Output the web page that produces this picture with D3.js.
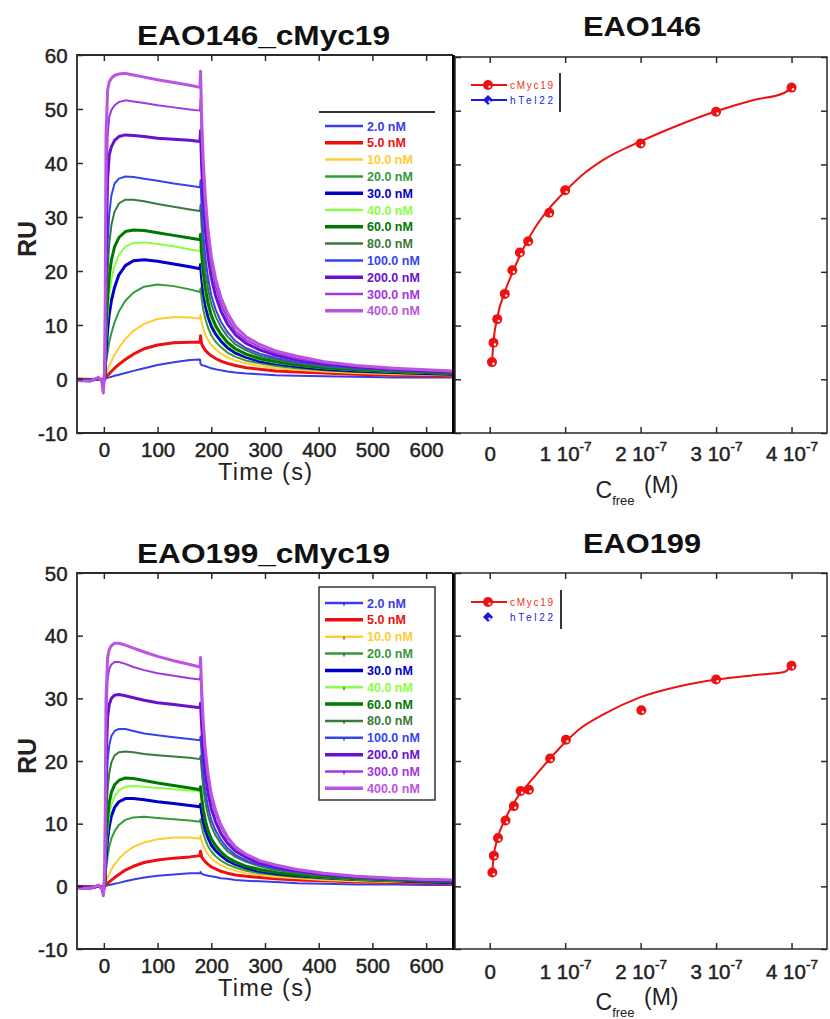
<!DOCTYPE html>
<html>
<head>
<meta charset="utf-8">
<script src="https://cdn.jsdelivr.net/npm/d3@7"></script>
<style>
  body { margin: 0; background: #fff; }
  svg { display: block; font-family: "Liberation Sans", Arial, sans-serif; }
</style>
</head>
<body>
<svg id="chart" width="830" height="1019"></svg>
<script>
// ---- Sensorgram data (RU vs time, one row per injected concentration) ----
const concLabels = ["2.0 nM", "5.0 nM", "10.0 nM", "20.0 nM", "30.0 nM", "40.0 nM",
                    "60.0 nM", "80.0 nM", "100.0 nM", "200.0 nM", "300.0 nM", "400.0 nM"];

const sensorTimes = [-50, -25, -10, -4, -1, 0,
  2, 4, 7, 10, 14, 20, 28, 40, 55, 75, 100, 130, 160, 179,
  180,
  182, 185, 189, 194, 200, 208, 218, 230, 245, 265, 290, 320, 360, 410, 470, 540, 600, 650];

const eao146Sensorgram = [
  [0, 0, 0, 0, -0.2, 0, 0.05, 0.1, 0.2, 0.3, 0.4, 0.6, 0.8, 1.1, 1.5, 2.0, 2.6, 3.1, 3.5, 3.6, 2.8,
   2.6, 2.5, 2.4, 2.2, 2.0, 1.8, 1.6, 1.4, 1.2, 1.0, 0.9, 0.7, 0.6, 0.5, 0.4, 0.3, 0.3, 0.3],
  [0, -0.1, 0, -0.1, -0.3, 0, 0.1, 0.4, 0.7, 1.0, 1.4, 2.0, 2.7, 3.6, 4.6, 5.6, 6.3, 6.7, 6.8, 6.8, 8.0,
   6.5, 5.9, 5.3, 4.8, 4.3, 3.8, 3.3, 2.9, 2.5, 2.1, 1.8, 1.5, 1.3, 1.1, 0.9, 0.7, 0.6, 0.5],
  [-0.1, -0.1, 0, -0.1, -0.4, -0.1, 0.2, 1, 1.8, 2.5, 3.3, 4.5, 5.8, 7.4, 8.9, 10.2, 11.1, 11.5, 11.4, 11.2, 11.9,
   10.5, 9.3, 8.2, 7.2, 6.3, 5.5, 4.7, 4.0, 3.4, 2.9, 2.4, 2.0, 1.7, 1.4, 1.1, 0.9, 0.8, 0.7],
  [-0.1, -0.1, 0, -0.1, -0.5, -0.1, 0.3, 3, 5, 6.8, 8.5, 10.5, 12.5, 14.5, 16, 17.1, 17.5, 17.2, 16.6, 16.1, 16.8,
   14.9, 12.9, 11.1, 9.5, 8.1, 6.9, 5.9, 4.9, 4.1, 3.4, 2.9, 2.4, 2.0, 1.6, 1.3, 1.1, 0.9, 0.8],
  [-0.1, -0.2, 0, -0.2, -0.6, -0.2, 0.4, 5, 9, 12, 14.5, 17, 19.3, 21, 21.9, 22.1, 21.8, 21.3, 20.8, 20.4, 21.2,
   18.7, 16.0, 13.6, 11.5, 9.8, 8.3, 7.0, 5.8, 4.8, 4.0, 3.3, 2.8, 2.3, 1.8, 1.5, 1.2, 1.0, 0.9],
  [-0.1, -0.2, 0, -0.2, -0.7, -0.2, 0.5, 7, 12, 15.5, 18.5, 21, 23, 24.5, 25.2, 25.3, 25.0, 24.6, 24.0, 23.7, 24.5,
   21.6, 18.4, 15.5, 13.1, 11.0, 9.3, 7.8, 6.4, 5.3, 4.4, 3.6, 3.0, 2.5, 2.0, 1.6, 1.3, 1.1, 1.0],
  [-0.2, -0.2, 0, -0.2, -0.8, -0.2, 0.6, 9, 15, 19, 22, 24.5, 26.2, 27.3, 27.6, 27.5, 27.1, 26.6, 26.1, 25.8, 26.8,
   23.4, 19.9, 16.8, 14.1, 11.8, 9.9, 8.3, 6.8, 5.6, 4.6, 3.8, 3.2, 2.6, 2.1, 1.7, 1.4, 1.2, 1.0],
  [-0.2, -0.2, 0, -0.2, -0.9, -0.3, 0.8, 12, 20, 25, 28.5, 31, 32.5, 33.2, 33.2, 32.9, 32.4, 31.9, 31.4, 31.1, 32.2,
   28.1, 23.8, 19.9, 16.6, 13.9, 11.6, 9.6, 7.9, 6.4, 5.3, 4.3, 3.6, 2.9, 2.3, 1.9, 1.5, 1.3, 1.1],
  [-0.2, -0.2, 0.1, -0.2, -1.0, -0.3, 1, 16, 25, 30.5, 34, 36.2, 37.1, 37.5, 37.4, 37.1, 36.7, 36.2, 35.8, 35.5, 36.8,
   32.0, 27.0, 22.5, 18.7, 15.5, 12.9, 10.6, 8.7, 7.0, 5.7, 4.7, 3.9, 3.1, 2.5, 2.0, 1.6, 1.4, 1.2],
  [-0.2, -0.3, 0.1, -0.2, -1.4, -0.4, 1.5, 24, 37, 41.5, 43, 44.2, 44.9, 45.2, 45.1, 44.9, 44.6, 44.4, 44.2, 44.0, 46.0,
   39.6, 33.2, 27.5, 22.7, 18.8, 15.4, 12.6, 10.2, 8.2, 6.6, 5.4, 4.4, 3.5, 2.8, 2.2, 1.8, 1.5, 1.3],
  [-0.3, -0.3, 0.2, -0.3, -1.8, -0.5, 2, 30, 45, 48.5, 49.8, 50.7, 51.3, 51.6, 51.4, 51.1, 50.7, 50.3, 49.9, 49.7, 52.0,
   44.7, 37.3, 30.8, 25.3, 20.9, 17.1, 13.9, 11.2, 8.9, 7.2, 5.9, 4.8, 3.8, 3.0, 2.4, 1.9, 1.6, 1.4],
  [-0.3, -0.4, 0.3, -0.4, -2.6, -0.6, 3, 45, 53.5, 55, 55.7, 56.2, 56.5, 56.6, 56.3, 55.9, 55.4, 54.9, 54.4, 54.0, 57.0,
   48.6, 40.5, 33.5, 27.5, 22.7, 18.6, 15.1, 12.2, 9.7, 7.8, 6.4, 5.2, 4.2, 3.2, 2.5, 2.0, 1.7, 1.5]
];

const eao199Sensorgram = [
  [0, 0, 0, 0, -0.2, 0, 0.05, 0.1, 0.15, 0.2, 0.3, 0.4, 0.55, 0.8, 1.1, 1.4, 1.7, 1.9, 2.1, 2.1, 2.3,
   2.0, 1.9, 1.8, 1.7, 1.6, 1.5, 1.3, 1.2, 1.0, 0.9, 0.8, 0.7, 0.5, 0.4, 0.3, 0.3, 0.2, 0.2],
  [0, -0.1, 0, -0.1, -0.3, 0, 0.1, 0.3, 0.5, 0.7, 1.0, 1.4, 1.9, 2.6, 3.2, 3.8, 4.2, 4.5, 4.7, 4.9, 5.6,
   4.7, 4.3, 3.9, 3.5, 3.1, 2.8, 2.4, 2.1, 1.8, 1.6, 1.4, 1.2, 1.0, 0.9, 0.7, 0.6, 0.5, 0.5],
  [-0.1, -0.1, 0, -0.1, -0.4, -0.1, 0.2, 0.8, 1.4, 2.0, 2.7, 3.5, 4.4, 5.4, 6.3, 7.0, 7.5, 7.8, 7.8, 7.6, 8.1,
   7.2, 6.5, 5.8, 5.1, 4.5, 3.9, 3.4, 2.9, 2.5, 2.1, 1.8, 1.5, 1.3, 1.0, 0.8, 0.7, 0.6, 0.5],
  [-0.1, -0.1, 0, -0.1, -0.5, -0.1, 0.3, 2.8, 4.8, 6.3, 7.6, 8.8, 9.8, 10.6, 11.0, 11.1, 10.9, 10.7, 10.5, 10.3, 10.7,
   9.6, 8.5, 7.4, 6.4, 5.6, 4.8, 4.1, 3.5, 3.0, 2.5, 2.1, 1.8, 1.5, 1.2, 1.0, 0.8, 0.7, 0.6],
  [-0.1, -0.2, 0, -0.2, -0.6, -0.2, 0.4, 4.5, 7.5, 9.5, 11.2, 12.6, 13.5, 14.0, 14.0, 13.8, 13.5, 13.2, 12.9, 12.7, 13.1,
   11.8, 10.3, 8.9, 7.7, 6.6, 5.7, 4.9, 4.1, 3.5, 2.9, 2.4, 2.0, 1.7, 1.4, 1.1, 0.9, 0.7, 0.6],
  [-0.1, -0.2, 0, -0.2, -0.7, -0.2, 0.5, 5.5, 9, 11.2, 13, 14.4, 15.3, 15.9, 16.0, 15.9, 15.7, 15.5, 15.3, 15.2, 15.7,
   14.0, 12.1, 10.3, 8.8, 7.5, 6.4, 5.4, 4.5, 3.8, 3.2, 2.6, 2.2, 1.8, 1.4, 1.1, 0.9, 0.8, 0.7],
  [-0.2, -0.2, 0, -0.2, -0.8, -0.2, 0.6, 7, 11, 13.3, 15, 16.2, 16.9, 17.3, 17.2, 16.9, 16.5, 16.1, 15.7, 15.4, 15.9,
   14.2, 12.3, 10.5, 8.9, 7.6, 6.5, 5.5, 4.6, 3.9, 3.2, 2.7, 2.2, 1.8, 1.5, 1.2, 1.0, 0.8, 0.7],
  [-0.2, -0.2, 0, -0.2, -0.9, -0.3, 0.8, 10, 15.5, 18, 19.8, 20.9, 21.4, 21.5, 21.4, 21.1, 20.9, 20.7, 20.5, 20.3, 20.8,
   18.6, 15.9, 13.4, 11.3, 9.6, 8.1, 6.8, 5.6, 4.7, 3.9, 3.2, 2.6, 2.1, 1.7, 1.3, 1.1, 0.9, 0.8],
  [-0.2, -0.2, 0.1, -0.2, -0.9, -0.3, 1, 14, 20, 22.5, 24, 24.8, 25.1, 25.1, 24.8, 24.4, 24.1, 23.8, 23.5, 23.3, 23.9,
   21.2, 18.0, 15.1, 12.6, 10.6, 8.9, 7.4, 6.1, 5.0, 4.1, 3.4, 2.8, 2.3, 1.8, 1.4, 1.1, 0.9, 0.8],
  [-0.2, -0.3, 0.1, -0.2, -1.0, -0.3, 1.5, 20, 27, 29, 30, 30.5, 30.6, 30.4, 30.1, 29.7, 29.3, 29.0, 28.7, 28.5, 29.2,
   25.8, 21.7, 18.0, 14.9, 12.4, 10.3, 8.4, 6.9, 5.6, 4.6, 3.7, 3.1, 2.5, 1.9, 1.5, 1.2, 1.0, 0.9],
  [-0.3, -0.3, 0.1, -0.3, -1.2, -0.4, 2, 26, 33, 34.7, 35.4, 35.8, 35.8, 35.5, 35.0, 34.5, 34.0, 33.6, 33.2, 33.0, 33.8,
   29.8, 24.9, 20.6, 17.0, 14.0, 11.6, 9.4, 7.6, 6.1, 5.0, 4.0, 3.3, 2.6, 2.0, 1.6, 1.3, 1.1, 1.0],
  [-0.3, -0.3, 0.2, -0.3, -1.5, -0.5, 3, 30, 36.5, 37.8, 38.4, 38.8, 38.8, 38.5, 38.0, 37.4, 36.7, 36.0, 35.4, 35.0, 36.5,
   31.5, 26.3, 21.7, 17.9, 14.7, 12.1, 9.8, 7.9, 6.3, 5.1, 4.1, 3.4, 2.7, 2.1, 1.6, 1.3, 1.1, 1.0]
];

// ---- Binding isotherms (equilibrium RU vs free concentration, nM) ----
const cfree146 = [3, 5, 10, 20, 30, 40, 51, 79, 100, 200, 300, 400];
const req146   = [3.2, 6.8, 11.2, 15.9, 20.3, 23.6, 25.7, 31.0, 35.2, 43.9, 49.8, 54.3];
const fitConc146 = [3, 5, 10, 20, 30, 40, 50, 60, 80, 100, 125, 150, 200, 250, 300, 350, 390, 400];
const fitRU146   = [3.0, 7.0, 11.5, 16.3, 19.8, 23.0, 25.8, 28.2, 32.0, 35.0, 38.3, 40.8, 44.3, 47.3, 49.9, 52.0, 53.3, 54.3];

const cfree199 = [3.5, 5.5, 11, 21, 32, 41, 52, 80, 101, 201, 300, 400];
const req199   = [2.2, 4.9, 7.7, 10.5, 12.8, 15.2, 15.4, 20.4, 23.4, 28.1, 33.0, 35.2];
const fitConc199 = [3, 5, 10, 20, 30, 40, 50, 60, 80, 100, 120, 150, 200, 250, 300, 350, 390, 400];
const fitRU199   = [1.5, 4.5, 7.5, 10.6, 12.9, 14.8, 16.2, 17.6, 20.4, 23.0, 25.2, 27.4, 30.2, 31.9, 33.0, 33.7, 34.2, 35.2];

// ---- Axis ticks ----
const timeTicks = [0, 100, 200, 300, 400, 500, 600];
const ruTicks146 = [-10, 0, 10, 20, 30, 40, 50, 60];
const ruTicks199 = [-10, 0, 10, 20, 30, 40, 50];
const cfreeTicks = [0, 1e-7, 2e-7, 3e-7, 4e-7];
const seriesNames = ["cMyc19", "hTel22"];

// ---- Styles ----
const concColors = ["#3b3be8", "#ee1010", "#ffcc33", "#339a3a", "#0000c8", "#88ff44",
                    "#007800", "#3a7a3a", "#3246f0", "#6a10d0", "#a236e0", "#bb55e0"];
const concWidths = [2, 3, 2, 2, 3, 2, 3, 2, 2, 3, 2, 3];
const axisColor = "#2a2a2a";
const fitRed = "#ee1111";

const svg = d3.select("#chart");

function styleAxis(g) {
  g.selectAll(".domain").remove();
  g.selectAll(".tick line").attr("stroke", axisColor).attr("stroke-width", 1.5);
  g.selectAll(".tick text").attr("fill", "#222").attr("font-size", 19.5)
    .attr("stroke", "#222").attr("stroke-width", 0.45)
    .attr("font-family", "'Liberation Sans', Arial, sans-serif")
    .attr("transform", "scale(1.05,1)");
}

function sensorPanel(o) {
  const x = d3.scaleLinear().domain([-50, 650]).range([77, 453]);
  const y = d3.scaleLinear().domain([-10, o.yMax]).range([o.bottom, o.top]);
  const g = svg.append("g");

  const clipId = "clip" + o.id;
  svg.append("clipPath").attr("id", clipId).append("rect")
    .attr("x", 77).attr("y", o.top).attr("width", 376).attr("height", o.bottom - o.top);

  const line = d3.line().x((d, i) => x(sensorTimes[i])).y(d => y(d));
  const curves = g.append("g").attr("clip-path", `url(#${clipId})`);
  o.rows.forEach((row, i) => {
    curves.append("path").datum(row).attr("d", line)
      .attr("fill", "none").attr("stroke", concColors[i])
      .attr("stroke-width", concWidths[i]).attr("stroke-linejoin", "round");
  });

  // axes with inward ticks
  g.append("g").attr("transform", `translate(0,${o.bottom})`)
    .call(d3.axisBottom(x).tickValues(timeTicks).tickSize(-6).tickPadding(10)).call(styleAxis);
  g.append("g").attr("transform", `translate(0,${o.top})`)
    .call(d3.axisTop(x).tickValues(timeTicks).tickSize(-6).tickFormat("")).call(styleAxis);
  g.append("g").attr("transform", `translate(77,0)`)
    .call(d3.axisLeft(y).tickValues(o.yTicks).tickSize(-6).tickPadding(9).tickFormat(d => String(d)))
    .call(styleAxis)
    .selectAll(".tick text").attr("dy", "0.36em");

  // frame
  g.append("path").attr("d", `M453,${o.top}H77V${o.bottom}H453`)
    .attr("fill", "none").attr("stroke", axisColor).attr("stroke-width", 1.8);
  g.append("line").attr("x1", 453.5).attr("x2", 453.5).attr("y1", o.top).attr("y2", o.bottom + 1)
    .attr("stroke", "#000").attr("stroke-width", 3);

  // labels
  g.append("text").attr("x", 137).attr("y", o.titleY).attr("font-size", 27).attr("font-weight", "bold")
    .attr("textLength", 253).attr("lengthAdjust", "spacingAndGlyphs").attr("fill", "#111").text(o.title);
  g.append("text").attr("transform", `translate(36,${(o.top + o.bottom) / 2 - 5}) rotate(-90)`)
    .attr("text-anchor", "middle").attr("font-size", 25).attr("font-weight", "bold").attr("fill", "#222").text("RU");
  g.append("text").attr("x", 265).attr("y", o.bottom + 47).attr("text-anchor", "middle")
    .attr("font-size", 23.5).attr("fill", "#222").attr("textLength", 94).text("Time (s)");

  // legend
  const lg = g.append("g");
  if (o.boxed) {
    lg.append("rect").attr("x", 319).attr("y", o.legTop).attr("width", 116).attr("height", o.legBoxH)
      .attr("fill", "none").attr("stroke", "#333").attr("stroke-width", 1.5);
  } else {
    lg.append("line").attr("x1", 319).attr("x2", 435).attr("y1", o.legTop).attr("y2", o.legTop)
      .attr("stroke", "#333").attr("stroke-width", 2);
  }
  concLabels.forEach((lab, i) => {
    const yy = o.legFirst + i * o.legStep;
    lg.append("line").attr("x1", 325).attr("x2", 363).attr("y1", yy).attr("y2", yy)
      .attr("stroke", concColors[i]).attr("stroke-width", concWidths[i] + 0.5);
    if (o.boxed && concWidths[i] === 2) {
      lg.append("line").attr("x1", 344).attr("x2", 344).attr("y1", yy).attr("y2", yy + 3)
        .attr("stroke", "#222").attr("stroke-width", 1);
    }
    lg.append("text").attr("x", 367).attr("y", yy).attr("dy", "0.36em")
      .attr("font-size", 12.5).attr("font-weight", "bold").attr("fill", concColors[i]).text(lab);
  });
}

function marker(g, cx, cy, color, shape) {
  if (shape === "circle") {
    g.append("circle").attr("cx", cx).attr("cy", cy).attr("r", 5).attr("fill", color);
  } else {
    g.append("path").attr("d", d3.symbol(d3.symbolSquare, 52)()).attr("transform", `translate(${cx},${cy}) rotate(45)`)
      .attr("fill", color);
  }
  g.append("circle").attr("cx", cx + 1.5).attr("cy", cy + 1.7).attr("r", 1.2).attr("fill", "#fff");
}

function bindingPanel(o) {
  const x = d3.scaleLinear().domain([-0.46e-7, 4.47e-7]).range([455, 827]);
  const y = d3.scaleLinear().domain([-10, o.yMax]).range([o.bottom, o.top]);
  const g = svg.append("g");

  const fit = o.fitConc.map((c, i) => [c * 1e-9, o.fitRU[i]]);
  g.append("path").datum(fit)
    .attr("d", d3.line().curve(d3.curveMonotoneX).x(d => x(d[0])).y(d => y(d[1])))
    .attr("fill", "none").attr("stroke", fitRed).attr("stroke-width", 2);
  o.conc.forEach((c, i) => marker(g, x(c * 1e-9), y(o.ru[i]), fitRed, "circle"));

  const bx = g.append("g").attr("transform", `translate(0,${o.bottom})`)
    .call(d3.axisBottom(x).tickValues(cfreeTicks).tickSize(-6).tickPadding(o.labelPad)
      .tickFormat(d => d === 0 ? "0" : String(Math.round(d * 1e7))))
    .call(styleAxis);
  bx.selectAll(".tick text").each(function (d) {
    if (d === 0) return;
    const t = d3.select(this);
    const k = Math.round(d * 1e7);
    t.text(null);
    t.append("tspan").text(k + " 10");
    t.append("tspan").attr("font-size", 13).attr("dy", "-0.75em").text("-7");
  });
  g.append("g").attr("transform", `translate(0,${o.top})`)
    .call(d3.axisTop(x).tickValues(cfreeTicks).tickSize(-6).tickFormat("")).call(styleAxis);
  g.append("g").attr("transform", `translate(455,0)`)
    .call(d3.axisLeft(y).tickValues(o.yTicks).tickSize(-6).tickFormat("")).call(styleAxis);
  g.append("g").attr("transform", `translate(827,0)`)
    .call(d3.axisRight(y).tickValues(o.yTicks).tickSize(-6).tickFormat("")).call(styleAxis);
  g.append("rect").attr("x", 455).attr("y", o.top).attr("width", 372).attr("height", o.bottom - o.top)
    .attr("fill", "none").attr("stroke", axisColor).attr("stroke-width", 1.5);

  g.append("text").attr("x", 583).attr("y", o.titleY).attr("font-size", 27).attr("font-weight", "bold")
    .attr("textLength", 118).attr("lengthAdjust", "spacingAndGlyphs").attr("fill", "#111").text(o.title);

  const xl = g.append("text").attr("x", 637).attr("y", o.bottom + o.cLabelOff).attr("text-anchor", "middle")
    .attr("font-size", 23).attr("fill", "#222");
  xl.append("tspan").text("C");
  xl.append("tspan").attr("font-size", 13).attr("dy", "0.5em").text("free");
  xl.append("tspan").attr("dy", "-0.5em").attr("dx", 3).text(" (M)");

  // legend
  const ly = o.legY;
  g.append("line").attr("x1", 471).attr("x2", 507).attr("y1", ly).attr("y2", ly)
    .attr("stroke", fitRed).attr("stroke-width", 2);
  marker(g, 488, ly, fitRed, "circle");
  if (o.blueLine) {
    g.append("line").attr("x1", 471).attr("x2", 507).attr("y1", ly + 15).attr("y2", ly + 15)
      .attr("stroke", "#1a1ae0").attr("stroke-width", 2);
  }
  marker(g, 488, ly + 15, "#1a1ae0", "diamond");
  g.append("text").attr("x", 510).attr("y", ly).attr("dy", "0.36em").attr("font-size", 10)
    .attr("textLength", 43).attr("fill", "#ee3322").text(seriesNames[0]);
  g.append("text").attr("x", 510).attr("y", ly + 15).attr("dy", "0.36em").attr("font-size", 10)
    .attr("textLength", 43).attr("fill", "#2020e0").text(seriesNames[1]);
  g.append("line").attr("x1", o.legBarX).attr("x2", o.legBarX).attr("y1", ly - 12).attr("y2", ly + 27)
    .attr("stroke", "#222").attr("stroke-width", 1.8);
}

sensorPanel({ id: "a", rows: eao146Sensorgram, yMax: 60, yTicks: ruTicks146, top: 55, bottom: 433,
  title: "EAO146_cMyc19", titleY: 45, boxed: false, legTop: 112, legFirst: 126, legStep: 16.8 });
sensorPanel({ id: "b", rows: eao199Sensorgram, yMax: 50, yTicks: ruTicks199, top: 573, bottom: 949,
  title: "EAO199_cMyc19", titleY: 563, boxed: true, legTop: 587, legBoxH: 213, legFirst: 603, legStep: 16.85 });

bindingPanel({ conc: cfree146, ru: req146, fitConc: fitConc146, fitRU: fitRU146, yMax: 60, yTicks: ruTicks146,
  top: 57, bottom: 433, title: "EAO146", titleY: 36, labelPad: 14, cLabelOff: 65, legY: 85, blueLine: true, legBarX: 560 });
bindingPanel({ conc: cfree199, ru: req199, fitConc: fitConc199, fitRU: fitRU199, yMax: 50, yTicks: ruTicks199,
  top: 573, bottom: 949, title: "EAO199", titleY: 553, labelPad: 16, cLabelOff: 61, legY: 602, blueLine: false, legBarX: 561 });
</script>
</body>
</html>
